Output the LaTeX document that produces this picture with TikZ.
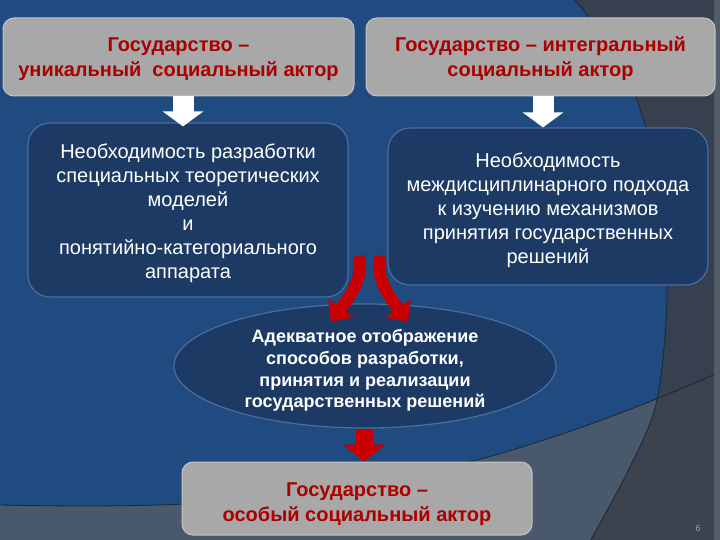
\documentclass[tikz,border=0pt]{standalone}
\usepackage{fontspec}
\setmainfont{Liberation Sans}
\usetikzlibrary{arrows.meta,shapes.geometric}
\definecolor{bgslate}{HTML}{36404F}
\definecolor{bgdark}{HTML}{3D434E}
\definecolor{bggrey}{HTML}{4A586C}
\definecolor{bgblue}{HTML}{1F4B80}
\definecolor{bgstrip}{HTML}{535C69}
\definecolor{edgeline}{HTML}{1A2536}
\definecolor{boxgrey}{HTML}{A8A8A8}
\definecolor{boxgreyline}{HTML}{C4C4C4}
\definecolor{navy}{HTML}{1C3A64}
\definecolor{navyline}{HTML}{4A6E9E}
\definecolor{darkred}{HTML}{AA0000}
\definecolor{arrowred}{HTML}{C80000}
\definecolor{pagegrey}{HTML}{A0A4AA}
\newcommand{\lowered}[2]{\raisebox{-#1}[\height][\depth]{\begin{tabular}{@{}c@{}}#2\end{tabular}}}
\begin{document}
\begin{tikzpicture}[x=1pt,y=-1pt,
 greybox/.style={draw=boxgreyline, line width=1pt, fill=boxgrey, rounded corners=11pt, align=center, text=darkred, font=\bfseries\fontsize{20}{25}\selectfont, inner sep=0pt},
 navybox/.style={draw=navyline, line width=1.2pt, fill=navy, rounded corners=22pt, align=center, text=white, font=\fontsize{20}{24}\selectfont, inner sep=0pt},
 navyell/.style={ellipse, draw=navyline, line width=1.2pt, fill=navy, align=center, text=white, font=\bfseries\fontsize{18}{21.7}\selectfont, inner sep=0pt},
 whitearrow/.style={white, line width=21pt, -{Triangle[width=40pt,length=15pt]}},
 redcurve/.style={arrowred, line width=12pt, -{Triangle[width=30pt,length=17pt]}},
 reddown/.style={arrowred, line width=17pt, -{Triangle[width=42pt,length=17pt]}},
]
\useasboundingbox (0,0) rectangle (720,540);
% background
\fill[bgslate] (0,0) rectangle (720,540);
\fill[bgdark] (0,505) .. controls (250,510) and (430,500) .. (720,372) -- (725,372) -- (725,545) -- (-5,545) -- (-5,505) -- cycle;
\begin{scope}
\clip (-5,-5) -- (575,-5) -- plot[smooth] coordinates {(575,0) (610,45) (637,100) (655,170) (667,290) (657,400) (630,467) (588,545)} -- (-5,545) -- cycle;
\fill[bgblue] (-5,-5) rectangle (725,545);
\fill[bggrey] (0,505) .. controls (250,510) and (430,500) .. (720,372) -- (725,372) -- (725,545) -- (-5,545) -- (-5,505) -- cycle;
\end{scope}
\draw[edgeline, line width=0.8pt] plot[smooth] coordinates {(575,0) (610,45) (637,100) (655,170) (667,290) (657,400) (630,467) (588,545)};
\draw[edgeline, line width=0.8pt] (0,505) .. controls (250,510) and (430,500) .. (720,372);
\fill[bgstrip] (714,0) rectangle (720,540);
% nodes
\node[greybox, minimum width=351pt, minimum height=78pt] (tl) at (178.5,57) {\lowered{2pt}{Государство –\\уникальный\ \ социальный актор}};
\node[greybox, minimum width=349pt, minimum height=78pt] (tr) at (540.5,57) {\lowered{2pt}{Государство – интегральный\\социальный актор}};
\node[navybox, minimum width=320pt, minimum height=174pt] (ml) at (188,210) {\lowered{4pt}{Необходимость разработки\\специальных теоретических\\моделей\\и\\понятийно-категориального\\аппарата}};
\node[navybox, minimum width=320pt, minimum height=157pt] (mr) at (548,206.5) {\lowered{4pt}{Необходимость\\междисциплинарного подхода\\к изучению механизмов\\принятия государственных\\решений}};
\node[navyell, minimum width=382pt, minimum height=124pt] (el) at (365,366) {\lowered{5pt}{Адекватное отображение\\способов разработки,\\принятия и реализации\\государственных решений}};
\node[greybox, minimum width=350pt, minimum height=73pt] (bt) at (357,498.5) {\lowered{5pt}{Государство –\\особый социальный актор}};
\node[text=pagegrey, font=\fontsize{9}{10}\selectfont, inner sep=0pt] (pg) at (698,528) {6};
% connectors
\coordinate (ax1) at (183,0);
\coordinate (ax2) at (543,0);
\coordinate (dx) at (364,0);
\coordinate (mlt) at ([yshift=-4pt]ml.north);
\draw[whitearrow] (tl.south -| ax1) -- (mlt -| ax1);
\draw[whitearrow] (tr.south -| ax2) -- (mr.north -| ax2);
\coordinate (ls) at (358,256);
\coordinate (le) at (331,322);
\coordinate (rs) at (381,256);
\coordinate (re) at (408,322);
\draw[redcurve] (ls) .. controls (366,278) and (346,301) .. (le);
\draw[redcurve] (rs) .. controls (373,278) and (393,301) .. (re);
\draw[reddown] (el.south -| dx) -- (bt.north -| dx);
\end{tikzpicture}
\end{document}
